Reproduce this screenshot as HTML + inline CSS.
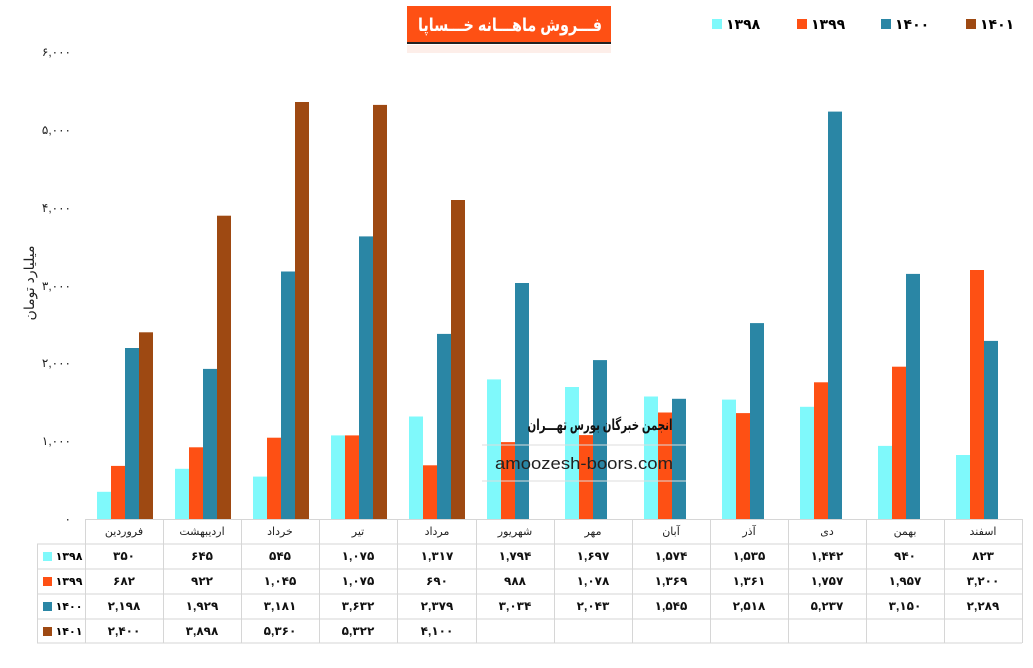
<!DOCTYPE html>
<html><head><meta charset="utf-8"><style>
body{margin:0;background:#fff;}
svg text{font-family:"Liberation Sans","DejaVu Sans",sans-serif;}
.n{font-size:12px;font-weight:bold;text-anchor:middle;fill:#111;}
.c{font-size:11px;text-anchor:middle;fill:#222;}
.y{font-size:12px;text-anchor:end;fill:#222;}
</style></head><body>
<svg width="1033" height="663" xmlns="http://www.w3.org/2000/svg">
<rect width="1033" height="663" fill="#fff"/>
<rect x="407" y="6" width="204" height="36" fill="#fe5014"/>
<rect x="407" y="42" width="204" height="2" fill="#222"/>
<rect x="407" y="45" width="204" height="8" fill="#fbe3da" opacity="0.6"/>
<text x="510" y="31" font-size="18" font-weight="bold" fill="#fff" text-anchor="middle" textLength="184" lengthAdjust="spacingAndGlyphs">فـــروش ماهـــانه خـــساپا</text>
<rect x="712" y="19" width="10" height="10" fill="#7ff9fb"/><text x="726" y="29" font-size="14" font-weight="bold">۱۳۹۸</text>
<rect x="797" y="19" width="10" height="10" fill="#fe5014"/><text x="811" y="29" font-size="14" font-weight="bold">۱۳۹۹</text>
<rect x="881" y="19" width="10" height="10" fill="#2a86a5"/><text x="895" y="29" font-size="14" font-weight="bold">۱۴۰۰</text>
<rect x="966" y="19" width="10" height="10" fill="#9e4912"/><text x="980" y="29" font-size="14" font-weight="bold">۱۴۰۱</text>
<text class="y" x="71" y="523">۰</text>
<text class="y" x="71" y="445">۱,۰۰۰</text>
<text class="y" x="71" y="367">۲,۰۰۰</text>
<text class="y" x="71" y="290">۳,۰۰۰</text>
<text class="y" x="71" y="212">۴,۰۰۰</text>
<text class="y" x="71" y="134">۵,۰۰۰</text>
<text class="y" x="71" y="56">۶,۰۰۰</text>
<text transform="translate(34,283) rotate(-90)" font-size="14" text-anchor="middle" fill="#222">میلیارد تومان</text>
<g fill="#7ff9fb">
<rect x="97" y="491.8" width="14" height="27.2"/><rect x="175" y="468.8" width="14" height="50.2"/><rect x="253" y="476.6" width="14" height="42.4"/><rect x="331" y="435.4" width="14" height="83.6"/><rect x="409" y="416.5" width="14" height="102.5"/><rect x="487" y="379.4" width="14" height="139.6"/><rect x="565" y="387" width="14" height="132"/><rect x="644" y="396.5" width="14" height="122.5"/><rect x="722" y="399.6" width="14" height="119.4"/><rect x="800" y="406.8" width="14" height="112.2"/><rect x="878" y="445.9" width="14" height="73.1"/><rect x="956" y="455" width="14" height="64"/>
</g>
<g fill="#fe5014">
<rect x="111" y="465.9" width="14" height="53.1"/><rect x="189" y="447.3" width="14" height="71.7"/><rect x="267" y="437.7" width="14" height="81.3"/><rect x="345" y="435.4" width="14" height="83.6"/><rect x="423" y="465.3" width="14" height="53.7"/><rect x="501" y="442.1" width="14" height="76.9"/><rect x="579" y="435.1" width="14" height="83.9"/><rect x="658" y="412.5" width="14" height="106.5"/><rect x="736" y="413.1" width="14" height="105.9"/><rect x="814" y="382.3" width="14" height="136.7"/><rect x="892" y="366.7" width="14" height="152.3"/><rect x="970" y="270" width="14" height="249"/>
</g>
<g fill="#2a86a5">
<rect x="125" y="348" width="14" height="171"/><rect x="203" y="368.9" width="14" height="150.1"/><rect x="281" y="271.5" width="14" height="247.5"/><rect x="359" y="236.4" width="14" height="282.6"/><rect x="437" y="333.9" width="14" height="185.1"/><rect x="515" y="283" width="14" height="236"/><rect x="593" y="360.1" width="14" height="158.9"/><rect x="672" y="398.8" width="14" height="120.2"/><rect x="750" y="323.1" width="14" height="195.9"/><rect x="828" y="111.6" width="14" height="407.4"/><rect x="906" y="273.9" width="14" height="245.1"/><rect x="984" y="340.9" width="14" height="178.1"/>
</g>
<g fill="#9e4912">
<rect x="139" y="332.3" width="14" height="186.7"/><rect x="217" y="215.7" width="14" height="303.3"/><rect x="295" y="102" width="14" height="417"/><rect x="373" y="104.9" width="14" height="414.1"/><rect x="451" y="200" width="14" height="319"/>
</g>
<text x="600" y="430" font-size="15" font-weight="bold" text-anchor="middle" fill="#111" textLength="145" lengthAdjust="spacingAndGlyphs">انجمن خبرگان بورس تهـــران</text>
<line x1="482" y1="445" x2="686" y2="445" stroke="#ddd"/>
<text x="584" y="469" font-size="17" text-anchor="middle" fill="#222" textLength="178" lengthAdjust="spacingAndGlyphs">amoozesh-boors.com</text>
<line x1="482" y1="481" x2="686" y2="481" stroke="#ddd"/>
<g stroke="#d6d6d6" stroke-width="1" fill="none">
<line x1="85" y1="519.5" x2="1022" y2="519.5"/>
<line x1="37" y1="544" x2="1022" y2="544"/>
<line x1="37" y1="569" x2="1022" y2="569"/>
<line x1="37" y1="594" x2="1022" y2="594"/>
<line x1="37" y1="619" x2="1022" y2="619"/>
<line x1="37" y1="643" x2="1022" y2="643"/>
<line x1="37.5" y1="544" x2="37.5" y2="643"/>
<line x1="85.5" y1="519" x2="85.5" y2="643"/>
<line x1="163.5" y1="519" x2="163.5" y2="643"/><line x1="241.5" y1="519" x2="241.5" y2="643"/><line x1="319.5" y1="519" x2="319.5" y2="643"/><line x1="397.5" y1="519" x2="397.5" y2="643"/><line x1="476.5" y1="519" x2="476.5" y2="643"/><line x1="554.5" y1="519" x2="554.5" y2="643"/><line x1="632.5" y1="519" x2="632.5" y2="643"/><line x1="710.5" y1="519" x2="710.5" y2="643"/><line x1="788.5" y1="519" x2="788.5" y2="643"/><line x1="866.5" y1="519" x2="866.5" y2="643"/><line x1="944.5" y1="519" x2="944.5" y2="643"/><line x1="1022.5" y1="519" x2="1022.5" y2="643"/>
</g>
<g>
<text class="c" x="124" y="535">فروردین</text><text class="c" x="202" y="535">اردیبهشت</text><text class="c" x="280" y="535">خرداد</text><text class="c" x="358" y="535">تیر</text><text class="c" x="437" y="535">مرداد</text><text class="c" x="515" y="535">شهریور</text><text class="c" x="593" y="535">مهر</text><text class="c" x="671" y="535">آبان</text><text class="c" x="749" y="535">آذر</text><text class="c" x="827" y="535">دی</text><text class="c" x="905" y="535">بهمن</text><text class="c" x="983" y="535">اسفند</text>
</g>
<rect x="43" y="552" width="9" height="9" fill="#7ff9fb"/><text x="69" y="560" font-size="11" font-weight="bold" text-anchor="middle">۱۳۹۸</text>
<rect x="43" y="577" width="9" height="9" fill="#fe5014"/><text x="69" y="585" font-size="11" font-weight="bold" text-anchor="middle">۱۳۹۹</text>
<rect x="43" y="602" width="9" height="9" fill="#2a86a5"/><text x="69" y="610" font-size="11" font-weight="bold" text-anchor="middle">۱۴۰۰</text>
<rect x="43" y="627" width="9" height="9" fill="#9e4912"/><text x="69" y="635" font-size="11" font-weight="bold" text-anchor="middle">۱۴۰۱</text>
<g>
<text class="n" x="124" y="560">۳۵۰</text><text class="n" x="202" y="560">۶۴۵</text><text class="n" x="280" y="560">۵۴۵</text><text class="n" x="358" y="560">۱,۰۷۵</text><text class="n" x="437" y="560">۱,۳۱۷</text><text class="n" x="515" y="560">۱,۷۹۴</text><text class="n" x="593" y="560">۱,۶۹۷</text><text class="n" x="671" y="560">۱,۵۷۴</text><text class="n" x="749" y="560">۱,۵۳۵</text><text class="n" x="827" y="560">۱,۴۴۲</text><text class="n" x="905" y="560">۹۴۰</text><text class="n" x="983" y="560">۸۲۳</text>
<text class="n" x="124" y="585">۶۸۲</text><text class="n" x="202" y="585">۹۲۲</text><text class="n" x="280" y="585">۱,۰۴۵</text><text class="n" x="358" y="585">۱,۰۷۵</text><text class="n" x="437" y="585">۶۹۰</text><text class="n" x="515" y="585">۹۸۸</text><text class="n" x="593" y="585">۱,۰۷۸</text><text class="n" x="671" y="585">۱,۳۶۹</text><text class="n" x="749" y="585">۱,۳۶۱</text><text class="n" x="827" y="585">۱,۷۵۷</text><text class="n" x="905" y="585">۱,۹۵۷</text><text class="n" x="983" y="585">۳,۲۰۰</text>
<text class="n" x="124" y="610">۲,۱۹۸</text><text class="n" x="202" y="610">۱,۹۲۹</text><text class="n" x="280" y="610">۳,۱۸۱</text><text class="n" x="358" y="610">۳,۶۳۲</text><text class="n" x="437" y="610">۲,۳۷۹</text><text class="n" x="515" y="610">۳,۰۳۴</text><text class="n" x="593" y="610">۲,۰۴۳</text><text class="n" x="671" y="610">۱,۵۴۵</text><text class="n" x="749" y="610">۲,۵۱۸</text><text class="n" x="827" y="610">۵,۲۳۷</text><text class="n" x="905" y="610">۳,۱۵۰</text><text class="n" x="983" y="610">۲,۲۸۹</text>
<text class="n" x="124" y="635">۲,۴۰۰</text><text class="n" x="202" y="635">۳,۸۹۸</text><text class="n" x="280" y="635">۵,۳۶۰</text><text class="n" x="358" y="635">۵,۳۲۲</text><text class="n" x="437" y="635">۴,۱۰۰</text>
</g>
</svg>
</body></html>
